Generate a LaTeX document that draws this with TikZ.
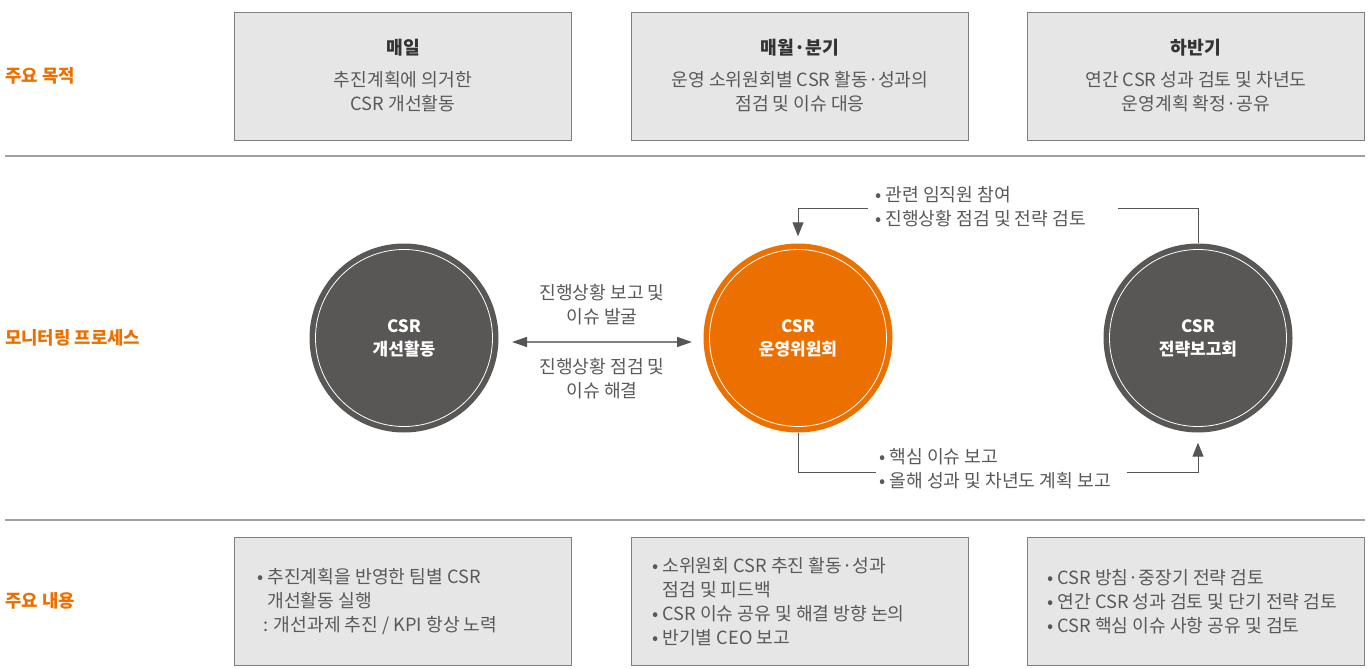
\documentclass[tikz,border=0pt]{standalone}
\usepackage{fontspec}
\setmainfont{Noto Sans CJK KR}
\usetikzlibrary{arrows.meta,calc}
\definecolor{orng}{HTML}{EC7000}
\definecolor{dcirc}{HTML}{595756}
\definecolor{boxfill}{HTML}{E6E6E6}
\definecolor{boxline}{HTML}{7F7F7F}
\definecolor{txt}{HTML}{595959}
\definecolor{ttl}{HTML}{333333}
\definecolor{rule}{HTML}{A0A0A0}
\definecolor{conn}{HTML}{555555}
\tikzset{
  x=1pt,y=-1pt,
  infobox/.style={draw=boxline,line width=1pt,fill=boxfill,minimum width=337pt,minimum height=128pt,anchor=north west,inner sep=0pt},
  rowlabel/.style={anchor=west,text=orng,font=\fontsize{17.8}{20}\selectfont\bfseries,inner sep=0pt},
  ttltext/.style={text=ttl,font=\fontsize{18.2}{20}\selectfont\bfseries,inner sep=0pt},
  bodytext/.style={text=txt,font=\fontsize{18.2}{24}\selectfont,align=center,inner sep=0pt},
  listtext/.style={text=txt,font=\fontsize{18.2}{24}\selectfont,align=left,anchor=west,inner sep=0pt},
  bigcirc/.style={circle,minimum size=189pt,inner sep=0pt,text=white,font=\fontsize{17}{23}\selectfont\bfseries,align=center},
  ring/.style={draw=white,line width=0.8pt},
  connline/.style={draw=conn,line width=1pt},
  tip/.style={-{Triangle[width=11pt,length=14pt]}},
}
\begin{document}
\begin{tikzpicture}
\useasboundingbox (0,0) rectangle (1371,669);
% row labels
\node[rowlabel] (l1) at (5,76) {주요 목적};
\node[rowlabel] (l2) at (5,338) {모니터링 프로세스};
\node[rowlabel] (l3) at (5,601) {주요 내용};
% rules
\draw[draw=rule,line width=1.6pt] (5,156) -- (1365,156);
\draw[draw=rule,line width=1.6pt] (5,520) -- (1365,520);
% top boxes
\node[infobox] (b1) at (234,12) {};
\node[infobox] (b2) at (631,12) {};
\node[infobox] (b3) at (1027,12) {};
\node[ttltext] (t1) at ($(b1.north)+(0,36)$) {매일};
\node[ttltext] (t2) at ($(b2.north)+(0,36)$) {매월·분기};
\node[ttltext] (t3) at ($(b3.north)+(0,36)$) {하반기};
\node[bodytext] (d1) at ($(b1.north)+(0,80)$) {추진계획에 의거한\\CSR 개선활동};
\node[bodytext] (d2) at ($(b2.north)+(0,80)$) {운영 소위원회별 CSR 활동·성과의\\점검 및 이슈 대응};
\node[bodytext] (d3) at ($(b3.north)+(0,80)$) {연간 CSR 성과 검토 및 차년도\\운영계획 확정·공유};
% circles
\node[bigcirc,fill=dcirc] (c1) at (404,338) {CSR\\개선활동};
\node[bigcirc,fill=orng] (c2) at (798,338) {CSR\\운영위원회};
\node[bigcirc,fill=dcirc] (c3) at (1198,338) {CSR\\전략보고회};
\draw[ring] (c1.center) circle[radius=88.5];
\draw[ring] (c2.center) circle[radius=88.5];
\draw[ring] (c3.center) circle[radius=88.5];
% bidirectional arrow
\coordinate (aL) at (512,342);
\coordinate (aR) at (692,342);
\draw[draw=conn!75,line width=1.4pt,{Triangle[width=10pt,length=15pt,color=conn]}-{Triangle[width=10pt,length=15pt,color=conn]}] (aL) -- (aR);
\node[bodytext] (up) at (602,305) {진행상황 보고 및\\이슈 발굴};
\node[bodytext] (dn) at (602,379) {진행상황 점검 및\\이슈 해결};
% top feedback connector
\node[listtext] (tl) at (875,207) {• 관련 임직원 참여\\• 진행상황 점검 및 전략 검토};
\coordinate (tR) at (1118,208);
\coordinate (tLs) at (868,208);
\draw[connline] (c3.north) |- (tR);
\draw[connline,tip,shorten >=7pt] (tLs) -| (c2.north);
% bottom connector
\node[listtext] (bl) at (879,469) {• 핵심 이슈 보고\\• 올해 성과 및 차년도 계획 보고};
\coordinate (bLe) at (876,472);
\coordinate (bRs) at (1127,472);
\draw[connline] (c2.south) |- (bLe);
\draw[connline,tip,shorten >=10pt] (bRs) -| (c3.south);
% bottom boxes
\node[infobox] (e1) at (234,537) {};
\node[infobox] (e2) at (631,537) {};
\node[infobox] (e3) at (1027,537) {};
\node[listtext] (f1) at ($(e1.west)+(23,0)$) {• 추진계획을 반영한 팀별 CSR\\\hphantom{•}\ 개선활동 실행\\\hphantom{•}: 개선과제 추진 / KPI 항상 노력};
\node[listtext] (f2) at ($(e2.west)+(21,0)$) {• 소위원회 CSR 추진 활동·성과\\\hphantom{•}\ 점검 및 피드백\\• CSR 이슈 공유 및 해결 방향 논의\\• 반기별 CEO 보고};
\node[listtext] (f3) at ($(e3.west)+(20,0)$) {• CSR 방침·중장기 전략 검토\\• 연간 CSR 성과 검토 및 단기 전략 검토\\• CSR 핵심 이슈 사항 공유 및 검토};
\end{tikzpicture}
\end{document}
